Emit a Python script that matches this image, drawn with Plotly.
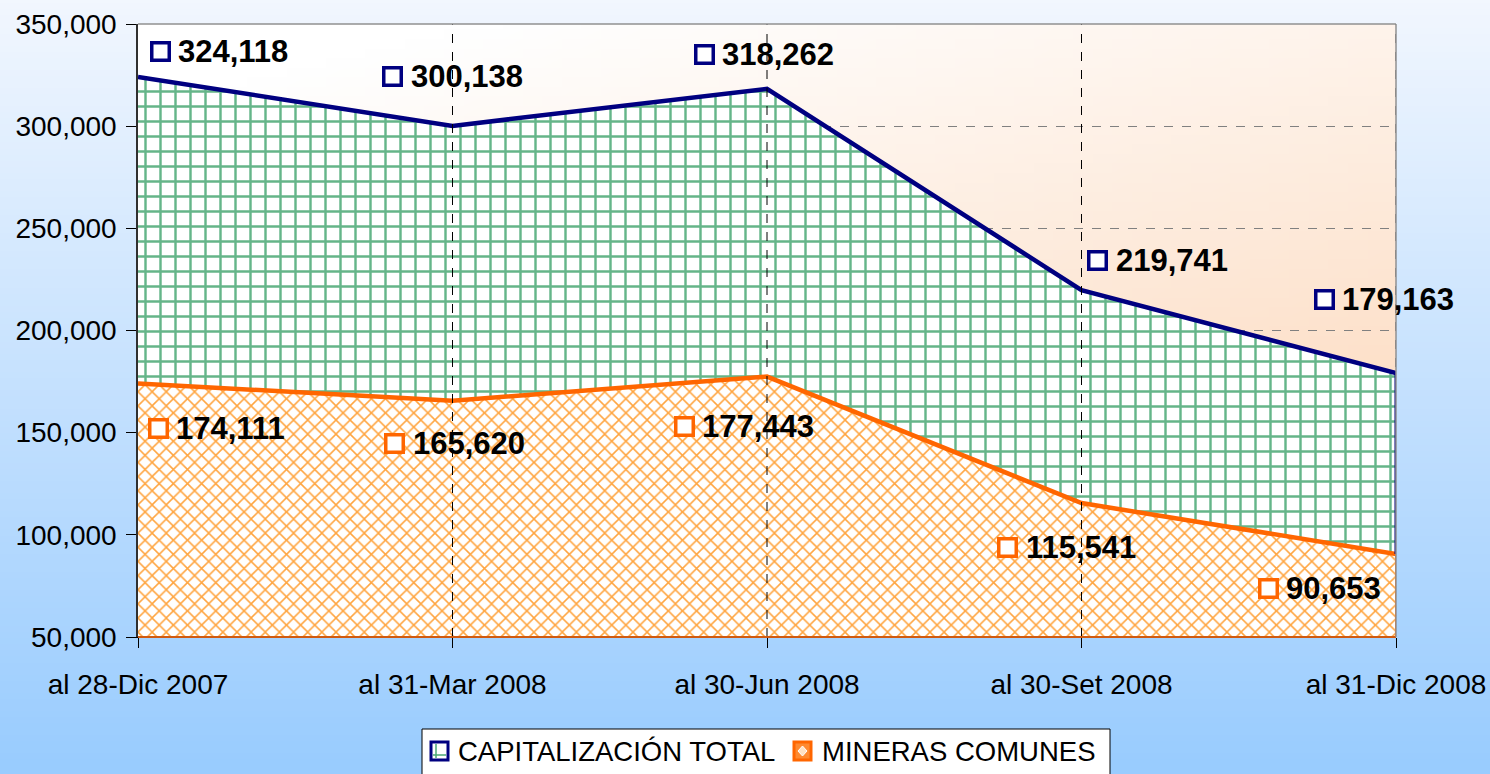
import numpy as np, zlib, struct, base64
import plotly.graph_objects as go

categories = ["al 28-Dic 2007", "al 31-Mar 2008", "al 30-Jun 2008", "al 30-Set 2008", "al 31-Dic 2008"]
total = [324118, 300138, 318262, 219741, 179163]
mineras = [174111, 165620, 177443, 115541, 90653]
series_names = ["CAPITALIZACIÓN TOTAL", "MINERAS COMUNES"]
y_ticks = [50000, 100000, 150000, 200000, 250000, 300000, 350000]

# label offsets in pixels (square marker), relative to data point
total_sq_off = [(22, 25), (-60, 49), (-63, 34), (16, 30), (-72, 74)]
min_sq_off = [(20, -45), (-58, -43), (-83, -50), (-74, -44), (-128, -35)]

W, H = 1490, 774
L, R, T, B = 138, 94, 24, 137
PW, PH = W - L - R, H - T - B
FONT = "Liberation Sans, Arial, sans-serif"
NAVY = "#000080"
ORANGE = "#FF6600"
GREEN = "#4AA874"


def make_png(arr):
    h, w, _ = arr.shape
    raw = b"".join(b"\x00" + arr[i].tobytes() for i in range(h))

    def chunk(tag, data):
        c = struct.pack(">I", len(data)) + tag + data
        return c + struct.pack(">I", zlib.crc32(tag + data) & 0xFFFFFFFF)

    png = (b"\x89PNG\r\n\x1a\n"
           + chunk(b"IHDR", struct.pack(">IIBBBBB", w, h, 8, 2, 0, 0, 0))
           + chunk(b"IDAT", zlib.compress(raw))
           + chunk(b"IEND", b""))
    return "data:image/png;base64," + base64.b64encode(png).decode()


# page gradient (vertical)
n = 128
v = np.linspace(0, 1, n)[:, None]
top = np.array([242, 247, 254]); bot = np.array([153, 204, 255])
page = (top + (bot - top) * v)[:, None, :] * np.ones((1, 4, 1))
page_uri = make_png(np.clip(page, 0, 255).astype(np.uint8))

# plot area gradient (white -> peach, diagonal)
vv, hh = np.meshgrid(np.linspace(0, 1, 64), np.linspace(0, 1, 64), indexing="ij")
t = np.clip(0.75 * vv + 0.35 * hh - 0.1, 0, 1)[..., None]
c0 = np.array([255, 255, 255]); c1 = np.array([252, 210, 176])
plot_uri = make_png(np.clip(c0 + (c1 - c0) * t, 0, 255).astype(np.uint8))


def px(xp):
    return (xp - L) / PW


def py(yp):
    return (H - B - yp) / PH


x = list(range(len(categories)))
fig = go.Figure()
fig.add_trace(go.Scatter(
    x=x, y=total, name=series_names[0], mode="lines", fill="tozeroy",
    line=dict(color=NAVY, width=4.5),
    fillcolor="white",
    fillpattern=dict(shape="+", fgcolor=GREEN, bgcolor="white", size=15, solidity=0.3, fgopacity=0.85),
    showlegend=False))
fig.add_trace(go.Scatter(
    x=x, y=mineras, name=series_names[1], mode="lines", fill="tozeroy",
    line=dict(color=ORANGE, width=4.5),
    fillcolor="white",
    fillpattern=dict(shape="x", fgcolor="#FFA540", bgcolor="white", size=10, solidity=0.28, fgopacity=1),
    showlegend=False))

shapes = []
# vertical dashed gridlines above fills
for i in x[1:]:
    shapes.append(dict(type="line", xref="x", yref="paper", x0=i, x1=i, y0=0, y1=1,
                       line=dict(color="black", width=1, dash="dash"), layer="above"))
# right edge of areas
shapes.append(dict(type="line", xref="x", yref="y", x0=x[-1], x1=x[-1], y0=mineras[-1], y1=total[-1],
                   line=dict(color=NAVY, width=3), layer="above"))
shapes.append(dict(type="line", xref="x", yref="y", x0=x[-1], x1=x[-1], y0=y_ticks[0], y1=mineras[-1],
                   line=dict(color=ORANGE, width=2), layer="above"))
# bottom baseline
shapes.append(dict(type="line", xref="paper", yref="paper", x0=0, x1=1, y0=0, y1=0,
                   line=dict(color="#D05A10", width=2), layer="above"))
# top and right border
shapes.append(dict(type="line", xref="paper", yref="paper", x0=0, x1=1, y0=1, y1=1,
                   line=dict(color="#909090", width=1.5), layer="above"))
shapes.append(dict(type="line", xref="paper", yref="paper", x0=1, x1=1, y0=0, y1=1,
                   line=dict(color="#909090", width=1.5), layer="above"))

# legend box
shapes.append(dict(type="rect", xref="paper", yref="paper", x0=px(422), x1=px(1110), y0=py(790), y1=py(729),
                   line=dict(color="black", width=1), fillcolor="white", layer="above"))
shapes.append(dict(type="rect", xref="paper", yref="paper", x0=px(431), x1=px(448), y0=py(760), y1=py(742),
                   line=dict(color=NAVY, width=3), fillcolor="white", layer="above"))
shapes.append(dict(type="line", xref="paper", yref="paper", x0=px(436), x1=px(436), y0=py(758), y1=py(744),
                   line=dict(color=GREEN, width=1.5), layer="above"))
shapes.append(dict(type="line", xref="paper", yref="paper", x0=px(433), x1=px(446), y0=py(755), y1=py(755),
                   line=dict(color=GREEN, width=1.5), layer="above"))
shapes.append(dict(type="rect", xref="paper", yref="paper", x0=px(794), x1=px(811), y0=py(760), y1=py(742),
                   line=dict(color=ORANGE, width=3), fillcolor="#FF8A30", layer="above"))
shapes.append(dict(type="path", xref="paper", yref="paper",
                   path="M {a},{m} L {c},{t} L {d},{m} L {c},{b} Z".format(
                       a=px(798), c=px(802.5), d=px(807), m=py(751), t=py(746), b=py(756)),
                   line=dict(color="white", width=1), fillcolor="#FFE2C4", layer="above"))

annotations = []


def add_label(xi, yv, off, color, value):
    dx, dy = off
    annotations.append(dict(xref="x", yref="y", x=xi, y=yv, xshift=dx, yshift=dy,
                            text=" ", showarrow=False, width=14, height=14,
                            font=dict(size=6), bgcolor="white",
                            bordercolor=color, borderwidth=3.5, borderpad=0,
                            xanchor="center", yanchor="middle"))
    annotations.append(dict(xref="x", yref="y", x=xi, y=yv, xshift=dx + 16, yshift=dy,
                            text="<b>{:,}</b>".format(value), showarrow=False,
                            font=dict(family=FONT, size=31, color="black"),
                            xanchor="left", yanchor="middle"))


for i in x:
    add_label(i, total[i], total_sq_off[i], NAVY, total[i])
    add_label(i, mineras[i], min_sq_off[i], ORANGE, mineras[i])

annotations.append(dict(xref="paper", yref="paper", x=px(456), y=py(751), text=series_names[0],
                        showarrow=False, xanchor="left", yanchor="middle",
                        font=dict(family=FONT, size=27.5, color="black")))
annotations.append(dict(xref="paper", yref="paper", x=px(820), y=py(751), text=series_names[1],
                        showarrow=False, xanchor="left", yanchor="middle",
                        font=dict(family=FONT, size=27.5, color="black")))

fig.update_layout(
    width=W, height=H,
    margin=dict(l=L, r=R, t=T, b=B, pad=0, autoexpand=False),
    paper_bgcolor="#CFE4FC",
    plot_bgcolor="rgba(0,0,0,0)",
    font=dict(family=FONT, size=28, color="black"),
    shapes=shapes,
    annotations=annotations,
    images=[
        dict(source=page_uri, xref="paper", yref="paper", x=-L / PW, y=1 + T / PH,
             sizex=W / PW, sizey=H / PH, sizing="stretch", layer="below", xanchor="left", yanchor="top"),
        dict(source=plot_uri, xref="paper", yref="paper", x=0, y=1,
             sizex=1, sizey=1, sizing="stretch", layer="below", xanchor="left", yanchor="top"),
    ],
    xaxis=dict(range=[0, 4], tickvals=x, ticktext=categories, showgrid=False, zeroline=False,
               showline=True, linecolor="black", linewidth=1, ticks="outside", ticklen=10,
               tickcolor="black", tickfont=dict(size=28), ticklabelstandoff=12, automargin=False),
    yaxis=dict(range=[y_ticks[0], y_ticks[-1]], tickvals=y_ticks, tickformat=",", showgrid=True,
               gridcolor="#808080", griddash="dash", gridwidth=1, zeroline=False,
               showline=True, linecolor="#303030", linewidth=1.5, ticks="outside", ticklen=10,
               tickcolor="black", tickfont=dict(size=28), ticklabelstandoff=4, automargin=False),
)

fig.write_html("out.html", config={"displayModeBar": False},
               post_script="document.body.style.margin='0';document.body.style.overflow='hidden';")
